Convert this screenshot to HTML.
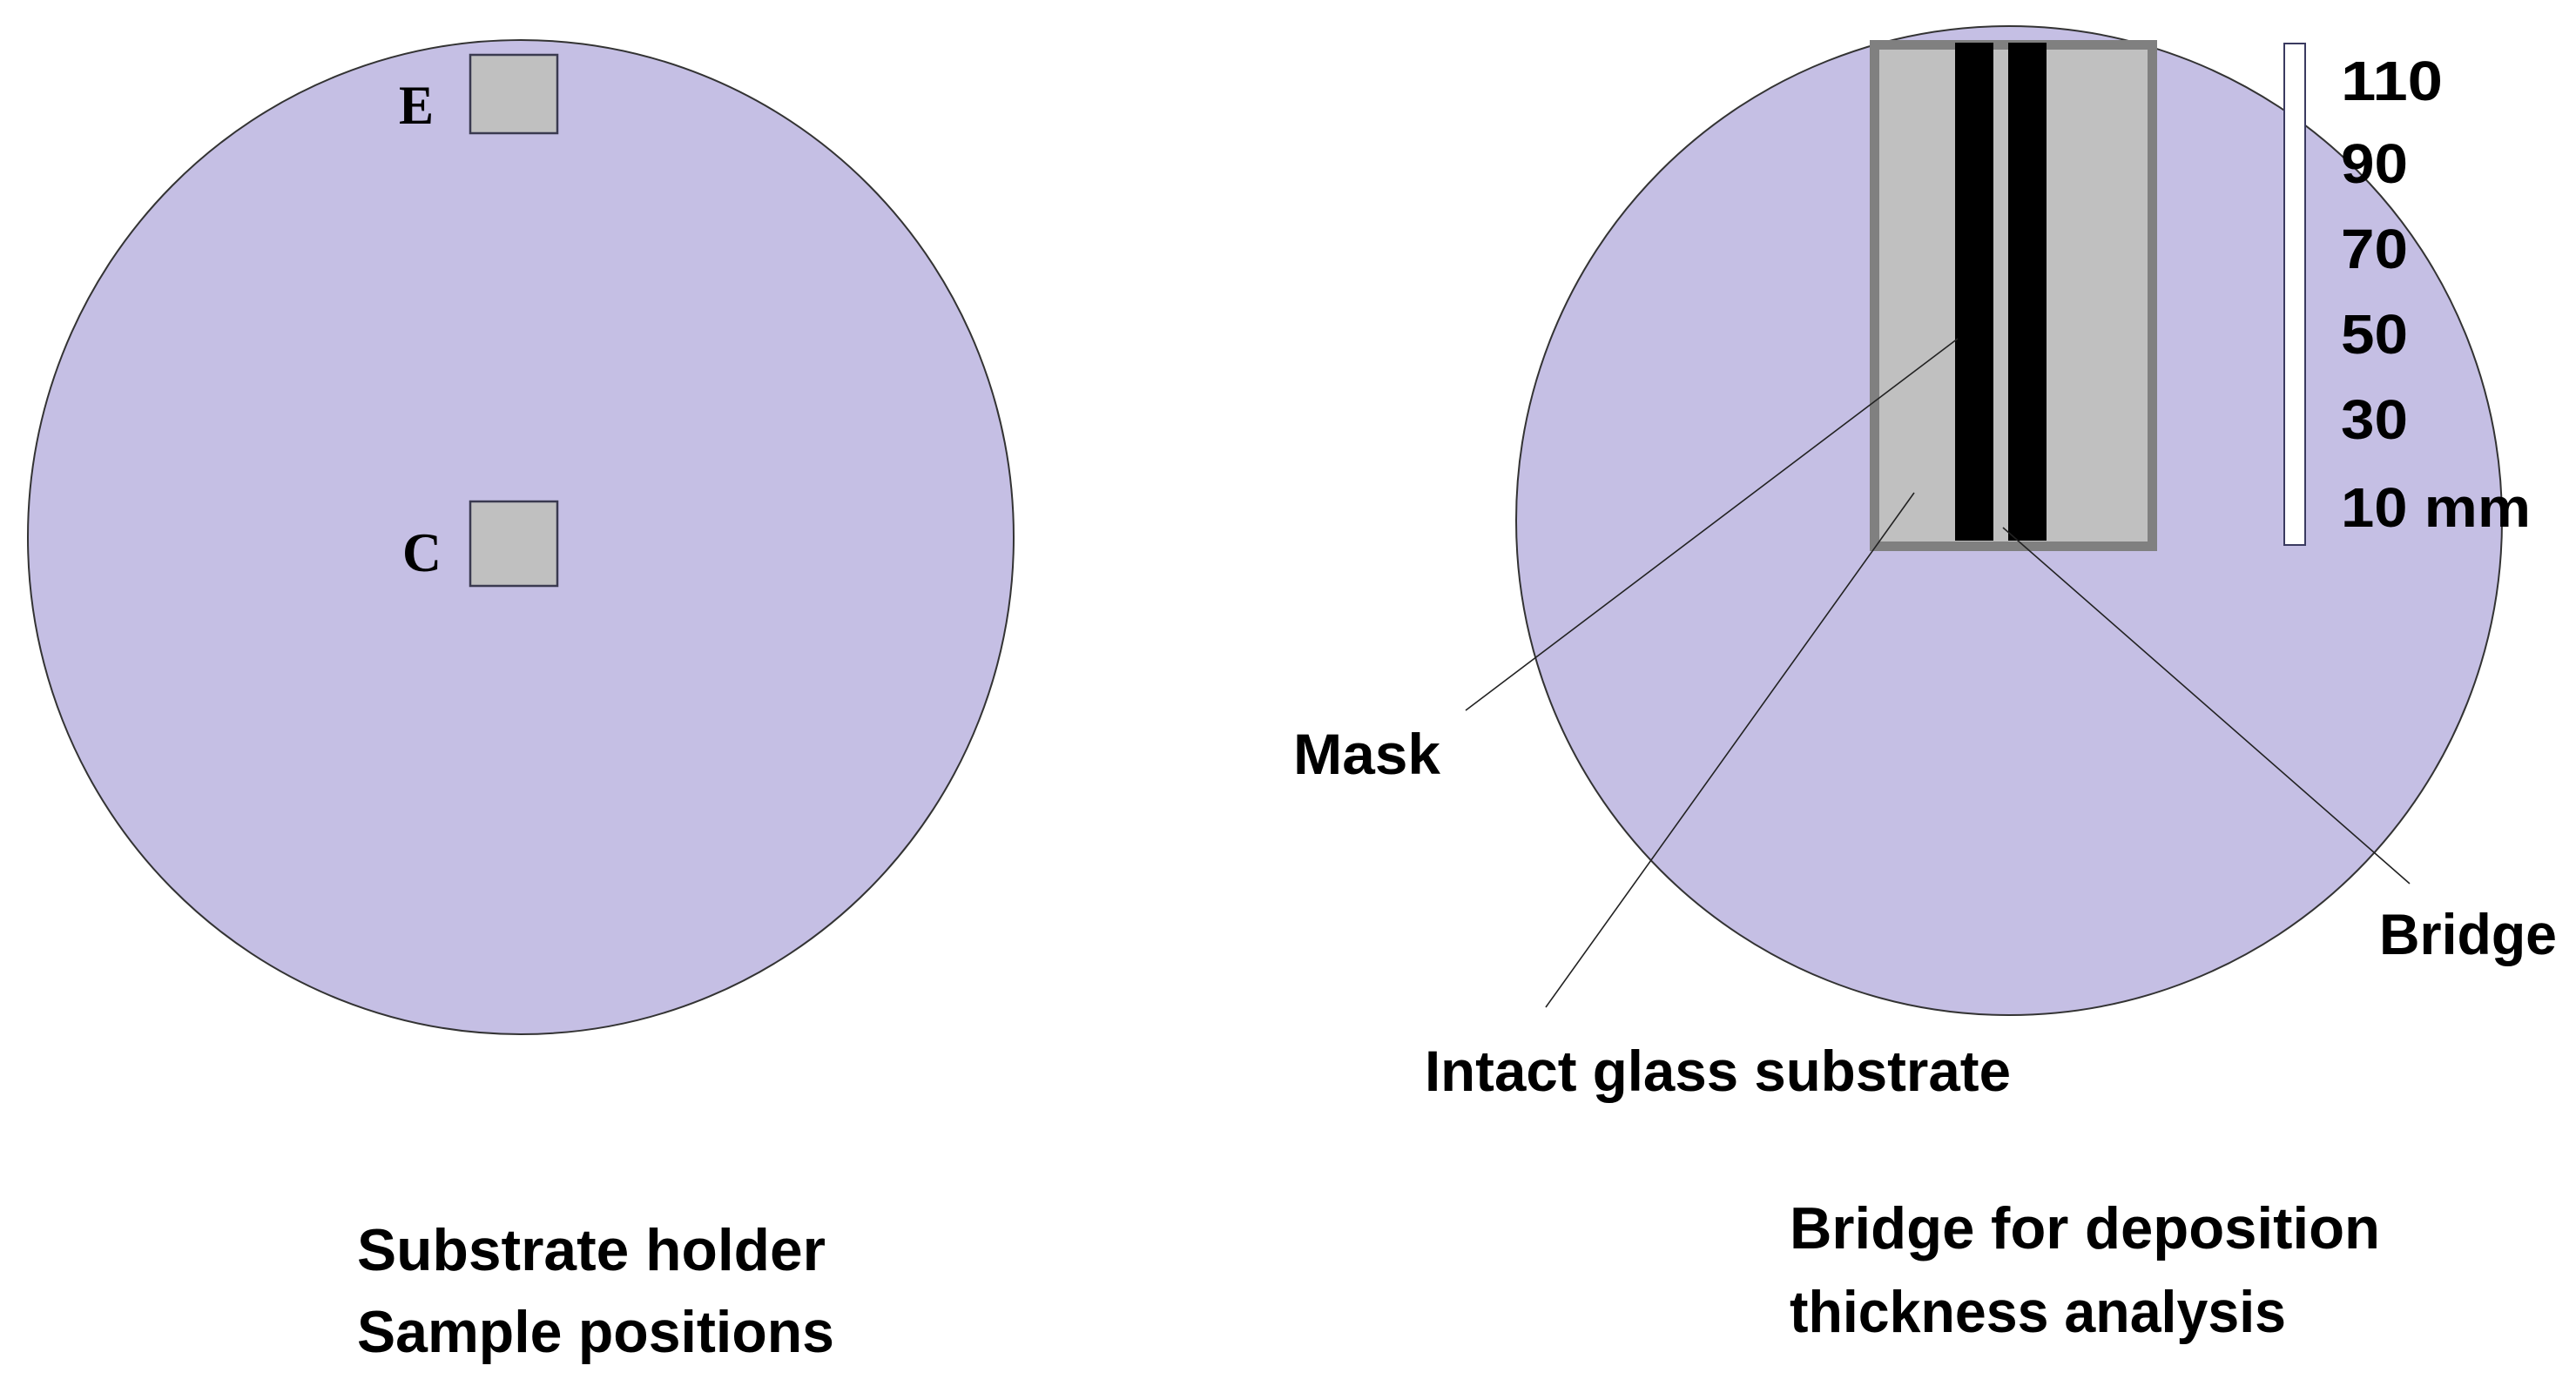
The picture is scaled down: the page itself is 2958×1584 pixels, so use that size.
<!DOCTYPE html>
<html><head><meta charset="utf-8"><style>
html,body{margin:0;padding:0;background:#fff;}
svg{display:block;}
.s{font-family:"Liberation Sans",sans-serif;font-weight:bold;fill:#000;}
.r{font-family:"Liberation Serif",serif;font-weight:bold;fill:#000;}
</style></head><body>
<svg width="2958" height="1584" viewBox="0 0 2958 1584" xmlns="http://www.w3.org/2000/svg">
<rect width="2958" height="1584" fill="#fff"/>
<ellipse cx="598" cy="617" rx="566" ry="571" fill="#c5bfe4" stroke="#333" stroke-width="2"/>
<rect x="540" y="63" width="100" height="90" fill="#c0c0c0" stroke="#3a3a50" stroke-width="2.5"/>
<rect x="540" y="576" width="100" height="97" fill="#c0c0c0" stroke="#3a3a50" stroke-width="2.5"/>
<text class="r" x="458" y="142" font-size="64" textLength="40" lengthAdjust="spacingAndGlyphs">E</text>
<text class="r" x="462" y="656" font-size="64" textLength="45" lengthAdjust="spacingAndGlyphs">C</text>
<text class="s" x="410" y="1459" font-size="68" textLength="538" lengthAdjust="spacingAndGlyphs">Substrate holder</text>
<text class="s" x="410" y="1553" font-size="68" textLength="548" lengthAdjust="spacingAndGlyphs">Sample positions</text>
<ellipse cx="2307" cy="598" rx="566" ry="568" fill="#c5bfe4" stroke="#333" stroke-width="2"/>
<rect x="2152.5" y="51.5" width="319" height="576" fill="#c0c0c0" stroke="#808080" stroke-width="11"/>
<rect x="2245" y="49" width="44" height="572" fill="#000"/>
<rect x="2306" y="49" width="44" height="572" fill="#000"/>
<rect x="2623" y="50" width="24" height="576" fill="#fff" stroke="#3a3a60" stroke-width="2"/>
<g class="s" font-size="64">
<text x="2688" y="115" textLength="117" lengthAdjust="spacingAndGlyphs">110</text>
<text x="2688" y="210" textLength="77" lengthAdjust="spacingAndGlyphs">90</text>
<text x="2688" y="308" textLength="77" lengthAdjust="spacingAndGlyphs">70</text>
<text x="2688" y="406" textLength="77" lengthAdjust="spacingAndGlyphs">50</text>
<text x="2688" y="504" textLength="77" lengthAdjust="spacingAndGlyphs">30</text>
<text x="2688" y="605" textLength="218" lengthAdjust="spacingAndGlyphs">10 mm</text>
</g>
<g stroke="#222" stroke-width="1.6">
<line x1="2248" y1="389" x2="1683" y2="816"/>
<line x1="2198" y1="566" x2="1775" y2="1157"/>
<line x1="2300" y1="606" x2="2767" y2="1015"/>
</g>
<text class="s" x="1485" y="889" font-size="66" textLength="169" lengthAdjust="spacingAndGlyphs">Mask</text>
<text class="s" x="2732" y="1096" font-size="66" textLength="204" lengthAdjust="spacingAndGlyphs">Bridge</text>
<text class="s" x="1636" y="1253" font-size="66" textLength="673" lengthAdjust="spacingAndGlyphs">Intact glass substrate</text>
<text class="s" x="2055" y="1434" font-size="68" textLength="678" lengthAdjust="spacingAndGlyphs">Bridge for deposition</text>
<text class="s" x="2055" y="1530" font-size="68" textLength="570" lengthAdjust="spacingAndGlyphs">thickness analysis</text>
</svg>
</body></html>
